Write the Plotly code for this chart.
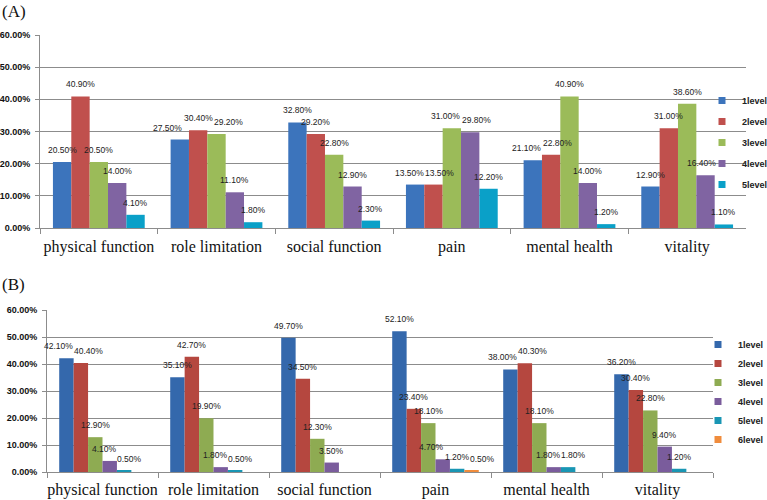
import plotly.graph_objects as go

categories = ["physical function", "role limitation", "social function", "pain", "mental health", "vitality"]
series_names_a = ["1level", "2level", "3level", "4level", "5level"]
series_names_b = ["1level", "2level", "3level", "4level", "5level", "6level"]

# Panel A values (%)
a_1level = [20.5, 27.5, 32.8, 13.5, 21.1, 12.9]
a_2level = [40.9, 30.4, 29.2, 13.5, 22.8, 31.0]
a_3level = [20.5, 29.2, 22.8, 31.0, 40.9, 38.6]
a_4level = [14.0, 11.1, 12.9, 29.8, 14.0, 16.4]
a_5level = [4.1, 1.8, 2.3, 12.2, 1.2, 1.1]

# Panel B values (%)
b_1level = [42.1, 35.1, 49.7, 52.1, 38.0, 36.2]
b_2level = [40.4, 42.7, 34.5, 23.4, 40.3, 30.4]
b_3level = [12.9, 19.9, 12.3, 18.1, 18.1, 22.8]
b_4level = [4.1, 1.8, 3.5, 4.7, 1.8, 9.4]
b_5level = [0.5, 0.5, None, 1.2, 1.8, 1.2]
b_6level = [None, None, None, 0.5, None, None]

y_ticks = [0, 10, 20, 30, 40, 50, 60]

colors_a = ["#3C74BC", "#C0504D", "#9BBB59", "#8064A2", "#0AA0C8"]
colors_b = ["#3468AC", "#B5473F", "#8EAB52", "#7A5C9C", "#1996B4", "#F08C3C"]

W, H = 767, 500
BARGAP = 0.22
LABEL_FONT = 8.5
YMAX = 60

# plot-area geometry (pixels)
A_X = (40, 746); A_Y = (228, 35)     # (zero line, top line)
B_X = (47, 713); B_Y = (472, 310)


def fmt(v):
    return f"{v:.2f}%"


def text_w(t, size=LABEL_FONT):
    em = {".": 0.278, "%": 0.889}
    return sum(em.get(c, 0.556) for c in t) * size


def place_labels(series, xpx, ypx, xref, yref, lift=12, xmax=None, ybot=None):
    """Place value labels above the bars, nudging overlapping labels sideways."""
    n = len(series)
    ncat = len(categories)
    cw = (xpx[1] - xpx[0]) / ncat
    gw = cw * (1 - BARGAP)
    sw = gw / n
    scale = (ypx[0] - ypx[1]) / YMAX
    labs = []
    for j, vals in enumerate(series):
        for i, v in enumerate(vals):
            if v is None:
                continue
            ccx = xpx[0] + cw * (i + 0.5)
            bx = ccx - gw / 2 + sw * (j + 0.5)
            cy = ypx[0] - v * scale - lift
            t = fmt(v)
            labs.append(dict(i=i, j=j, v=v, t=t, ccx=ccx, x=bx, cy=cy, w=text_w(t)))
    for _ in range(300):
        moved = False
        labs.sort(key=lambda d: (d["x"], d["j"]))
        for a in range(len(labs)):
            for b in range(a + 1, len(labs)):
                p, q = labs[a], labs[b]
                if abs(p["cy"] - q["cy"]) >= 10:
                    continue
                ov = (p["w"] + q["w"]) / 2 + 1.5 - abs(q["x"] - p["x"])
                if ov > 0.05:
                    left, right = (p, q) if (p["x"], p["j"]) <= (q["x"], q["j"]) else (q, p)
                    left["x"] -= ov / 2
                    right["x"] += ov / 2
                    moved = True
        if xmax is not None:
            for d in labs:
                if d["x"] + d["w"] / 2 > xmax and d["cy"] < ybot:
                    d["x"] = xmax - d["w"] / 2
        if not moved:
            break
    anns = []
    for d in labs:
        anns.append(dict(
            x=categories[d["i"]], y=d["v"], xref=xref, yref=yref,
            xshift=d["x"] - d["ccx"], yshift=lift, text=d["t"], showarrow=False,
            xanchor="center", yanchor="middle",
            font=dict(family="Liberation Sans", size=LABEL_FONT, color="#222"),
        ))
    return anns


fig = go.Figure()

series_a = [a_1level, a_2level, a_3level, a_4level, a_5level]
series_b = [b_1level, b_2level, b_3level, b_4level, b_5level, b_6level]

for name, vals, col in zip(series_names_a, series_a, colors_a):
    fig.add_trace(go.Bar(
        x=categories, y=vals, name=name, marker=dict(color=col, line=dict(width=0)),
        xaxis="x", yaxis="y", showlegend=False,
    ))
    # small square legend key
    fig.add_trace(go.Scatter(
        x=[None], y=[None], mode="markers", name=name,
        marker=dict(symbol="square", size=7, color=col),
        xaxis="x", yaxis="y", legend="legend", legendgroup="a" + name,
    ))

for name, vals, col in zip(series_names_b, series_b, colors_b):
    fig.add_trace(go.Bar(
        x=categories, y=vals, name=name, marker=dict(color=col, line=dict(width=0)),
        xaxis="x2", yaxis="y2", showlegend=False,
    ))
    fig.add_trace(go.Scatter(
        x=[None], y=[None], mode="markers", name=name,
        marker=dict(symbol="square", size=7, color=col),
        xaxis="x2", yaxis="y2", legend="legend2", legendgroup="b" + name,
    ))

axis_common_x = dict(
    type="category", showgrid=False, showline=True, linecolor="#8c8c8c", linewidth=1,
    ticks="outside", tickson="boundaries", ticklen=5, tickcolor="#8c8c8c", tickangle=0,
    tickfont=dict(family="Liberation Serif", size=16, color="#111"), automargin=False,
    range=[-0.5, len(categories) - 0.5],
)
axis_common_y = dict(
    range=[0, YMAX], tickvals=y_ticks, ticktext=[fmt(t) for t in y_ticks],
    showgrid=True, gridcolor="#8c8c8c", gridwidth=1, showline=True, linecolor="#8c8c8c",
    ticks="outside", ticklen=4, tickcolor="#8c8c8c", zeroline=False, ticklabelstandoff=3,
    tickfont=dict(family="Liberation Sans", size=9, color="#111", weight="bold"), automargin=False,
)

annotations = [
    dict(text="(A)", x=0, y=1, xref="paper", yref="paper", xanchor="left", yanchor="top",
         showarrow=False, font=dict(family="Liberation Serif", size=17, color="#111")),
    dict(text="(B)", x=0, y=1 - 273 / H, xref="paper", yref="paper", xanchor="left", yanchor="top",
         showarrow=False, font=dict(family="Liberation Serif", size=17, color="#111")),
]
annotations += place_labels(series_a, A_X, A_Y, "x", "y", lift=12, xmax=716, ybot=195)
annotations += place_labels(series_b, B_X, B_Y, "x2", "y2", lift=12)

legend_font = dict(family="Liberation Sans", size=9, color="#222", weight="bold")

fig.update_layout(
    width=W, height=H,
    margin=dict(l=0, r=0, t=0, b=0, autoexpand=False),
    paper_bgcolor="white", plot_bgcolor="white",
    barmode="group",
    bargap=BARGAP, bargroupgap=0,
    xaxis=dict(domain=[A_X[0] / W, A_X[1] / W], anchor="y", ticklabelstandoff=4, **axis_common_x),
    yaxis=dict(domain=[1 - A_Y[0] / H, 1 - A_Y[1] / H], anchor="x", **axis_common_y),
    xaxis2=dict(domain=[B_X[0] / W, B_X[1] / W], anchor="y2", ticklabelstandoff=3, **axis_common_x),
    yaxis2=dict(domain=[1 - B_Y[0] / H, 1 - B_Y[1] / H], anchor="x2", **axis_common_y),
    legend=dict(x=702 / W, y=1 - 86 / H, xanchor="left", yanchor="top", bgcolor="rgba(0,0,0,0)",
                font=legend_font, tracegroupgap=2),
    legend2=dict(x=698 / W, y=1 - 330 / H, xanchor="left", yanchor="top", bgcolor="rgba(0,0,0,0)",
                 font=legend_font, tracegroupgap=0),
    showlegend=True,
    annotations=annotations,
)

fig.write_html("out.html")
